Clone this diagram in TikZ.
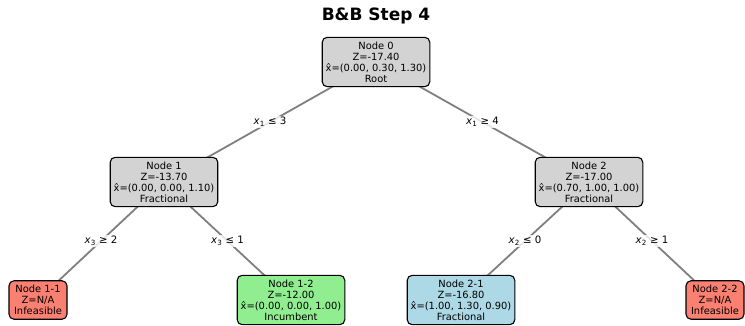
\documentclass[tikz,border=0pt]{standalone}
\usepackage{fontspec}
\setmainfont{DejaVu Sans}
\begin{document}
\begin{tikzpicture}[x=1pt,y=-1pt,
  bbnode/.style={draw=black, line width=1.1pt, rounded corners=5pt, align=center,
    font=\fontsize{9.9}{10.9}\selectfont, inner xsep=3.5pt, inner ysep=4.5pt},
  gray node/.style={bbnode, fill=lightgrayfill},
  red node/.style={bbnode, fill=salmonfill, minimum width=58pt},
  green node/.style={bbnode, fill=greenfill},
  blue node/.style={bbnode, fill=bluefill},
  edge/.style={draw=edgegray, line width=1.8pt},
  elabel/.style={fill=white, fill opacity=0.8, text opacity=1, inner sep=1.5pt,
    font=\fontsize{10.2}{11}\selectfont}]
\definecolor{lightgrayfill}{HTML}{D3D3D3}
\definecolor{salmonfill}{HTML}{FA8072}
\definecolor{greenfill}{HTML}{90EE90}
\definecolor{bluefill}{HTML}{ADD8E6}
\definecolor{edgegray}{HTML}{7F7F7F}
\useasboundingbox (0,0) rectangle (745,325);

\node[font=\fontsize{17}{19}\selectfont\bfseries] (title) at (376,16) {B\&B Step 4};

% tree nodes
\coordinate (c0) at (376,62);
\coordinate (c1) at (164,182);
\coordinate (c2) at (589,182);
\coordinate (c11) at (38,300);
\coordinate (c12) at (291,300);
\coordinate (c21) at (461,300);
\coordinate (c22) at (715,300);

% connectors, drawn first so the boxes cover them
\draw[edge] (c0) -- (c1) node[midway, elabel] (l1) {\textit{x}\textsubscript{1} ≤ 3};
\draw[edge] (c0) -- (c2) node[midway, elabel] (l2) {\textit{x}\textsubscript{1} ≥ 4};
\draw[edge] (c1) -- (c11) node[midway, elabel] (l11) {\textit{x}\textsubscript{3} ≥ 2};
\draw[edge] (c1) -- (c12) node[midway, elabel] (l12) {\textit{x}\textsubscript{3} ≤ 1};
\draw[edge] (c2) -- (c21) node[midway, elabel] (l21) {\textit{x}\textsubscript{2} ≤ 0};
\draw[edge] (c2) -- (c22) node[midway, elabel] (l22) {\textit{x}\textsubscript{2} ≥ 1};

\node[gray node] (n0) at (c0) {Node 0\\Z=-17.40\\x̂=(0.00, 0.30, 1.30)\\Root};
\node[gray node] (n1) at (c1) {Node 1\\Z=-13.70\\x̂=(0.00, 0.00, 1.10)\\Fractional};
\node[gray node] (n2) at (c2) {Node 2\\Z=-17.00\\x̂=(0.70, 1.00, 1.00)\\Fractional};
\node[red node] (n11) at (c11) {Node 1-1\\Z=N/A\\Infeasible};
\node[green node] (n12) at (c12) {Node 1-2\\Z=-12.00\\x̂=(0.00, 0.00, 1.00)\\Incumbent};
\node[blue node] (n21) at (c21) {Node 2-1\\Z=-16.80\\x̂=(1.00, 1.30, 0.90)\\Fractional};
\node[red node] (n22) at (c22) {Node 2-2\\Z=N/A\\Infeasible};
\end{tikzpicture}
\end{document}
